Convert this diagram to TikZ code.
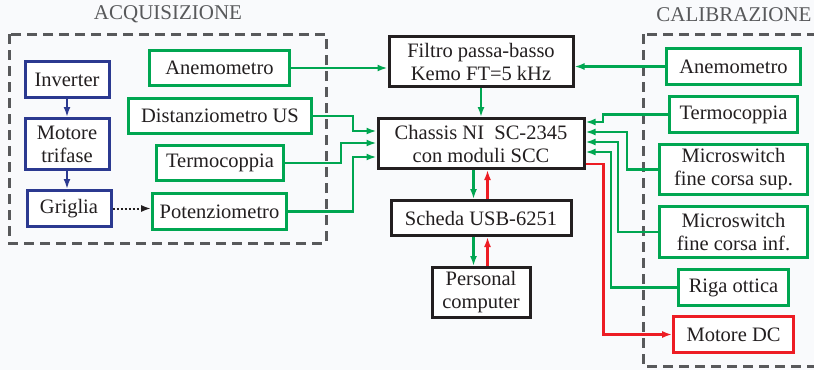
\documentclass[tikz,border=0pt]{standalone}
\usepackage{fontspec}
\setmainfont{Liberation Serif}
\usetikzlibrary{arrows.meta,calc}
\definecolor{bg}{RGB}{249,250,252}
\definecolor{ink}{RGB}{35,31,32}
\definecolor{grn}{RGB}{0,166,81}
\definecolor{blu}{RGB}{43,57,144}
\definecolor{rd}{RGB}{237,28,36}
\definecolor{frame}{RGB}{88,89,91}
\tikzset{
  box/.style={draw=ink, line width=3pt, fill=white, inner sep=0pt, align=center,
    text=ink, font=\fontsize{20.5}{23}\selectfont},
  gbox/.style={box, draw=grn, line width=2.7pt},
  bbox/.style={box, draw=blu},
  rbox/.style={box, draw=rd},
  tipA/.style={-{Latex[length=10pt,width=7pt]}},
  gline/.style={tipA, draw=grn, line width=2.3pt},
  rline/.style={tipA, draw=rd, line width=2.3pt},
  bline/.style={tipA, draw=blu, line width=2.3pt},
  dotline/.style={tipA, draw=ink, line width=2pt, dotted},
  group/.style={draw=frame, line width=3pt, dash pattern=on 10pt off 6pt},
  grouplabel/.style={text=frame, inner sep=0pt, font=\fontsize{21}{23}\selectfont},
}
\begin{document}
\begin{tikzpicture}[x=1pt, y=-1pt]
  \useasboundingbox (0,0) rectangle (814,370);
  \fill[bg] (0,0) rectangle (814,370);

  % group frames and titles
  \draw[group] (9,34) rectangle (326,243);
  \draw[group] (643,34) rectangle (830,366);
  \node[grouplabel] (acq) at (168,14) {ACQUISIZIONE};
  \node[grouplabel] (cal) at (734,15) {CALIBRAZIONE};

  % drive chain
  \node[bbox, minimum width=84, minimum height=36] (inv) at (67,79.5) {Inverter};
  \node[bbox, minimum width=84, minimum height=51] (mot) at (67,144) {Motore\\trifase};
  \node[bbox, minimum width=84, minimum height=36] (gri) at (69,208.5) {Griglia};

  % acquisition sensors
  \node[gbox, minimum width=140, minimum height=35.5] (anL) at (219.5,68) {Anemometro};
  \node[gbox, minimum width=183, minimum height=35.5] (dist) at (220,116) {Distanziometro US};
  \node[gbox, minimum width=127, minimum height=35.5] (terL) at (220,163) {Termocoppia};
  \node[gbox, minimum width=134, minimum height=36] (pot) at (219.5,211.5) {Potenziometro};

  % central chain
  \node[box, minimum width=184, minimum height=50] (fil) at (481,61.5) {Filtro passa-basso\\Kemo FT=5 kHz};
  \node[box, minimum width=206, minimum height=50] (cha) at (481,143.5) {Chassis NI\ \ SC-2345\\con moduli SCC};
  \node[box, minimum width=180, minimum height=35] (usb) at (481,218) {Scheda USB-6251};
  \node[box, minimum width=98, minimum height=50] (pc) at (481,292.5) {Personal\\computer};

  % calibration devices
  \node[gbox, minimum width=134, minimum height=36] (anR) at (733.5,66.5) {Anemometro};
  \node[gbox, minimum width=128, minimum height=36] (terR) at (733.5,114.5) {Termocoppia};
  \node[gbox, minimum width=148, minimum height=50] (msS) at (733.5,169.5) {Microswitch\\fine corsa sup.};
  \node[gbox, minimum width=148, minimum height=51] (msI) at (733.5,232) {Microswitch\\fine corsa inf.};
  \node[gbox, minimum width=110, minimum height=36] (riga) at (733.5,287.5) {Riga ottica};
  \node[rbox, line width=2.7pt, minimum width=120, minimum height=36] (mdc) at (733.5,334.5) {Motore DC};

  % drive chain links
  \draw[bline] (inv.south) -- (mot.north);
  \draw[bline] (mot.south) -- (mot.south |- gri.north);
  \draw[dotline] (gri.east) -- (gri.east -| pot.west);

  % signals to the filter and the chassis
  \draw[gline] (anL.east) -- (anL.east -| fil.west);
  \draw[gline] (anR.west) -- (anR.west -| fil.east);
  \draw[gline] (fil.south) -- (cha.north);

  \draw[gline] (dist.east) -- ++(40,0) |- ($(cha.west)+(0,-12.5)$);
  \draw[gline] (terL.east) -- ++(56,0) |- ($(cha.west)+(0,-0.5)$);
  \draw[gline] (pot.east) -- ++(65,0) |- ($(cha.west)+(0,13.5)$);

  \draw[gline] (terR.west) -- ++(-65,0) |- ($(cha.east)+(0,-21.5)$);
  \draw[gline] (msS.west) -- ++(-31,0) |- ($(cha.east)+(0,-11.5)$);
  \draw[gline] (msI.west) -- ++(-40,0) |- ($(cha.east)+(0,-1.5)$);
  \draw[gline] (riga.west) -- ++(-66,0) |- ($(cha.east)+(0,8.5)$);
  \draw[rline] ($(cha.east)+(0,20.5)$) -- ++(18,0) |- (mdc.west);

  % data links between chassis, board and computer
  \draw[gline] ($(cha.south)+(-7.5,0)$) -- ($(usb.north)+(-7.5,0)$);
  \draw[rline] ($(usb.north)+(6.5,0)$) -- ($(cha.south)+(6.5,0)$);
  \draw[gline] ($(usb.south)+(-7.5,0)$) -- ($(pc.north)+(-7.5,0)$);
  \draw[rline] ($(pc.north)+(6.5,0)$) -- ($(usb.south)+(6.5,0)$);
\end{tikzpicture}
\end{document}
